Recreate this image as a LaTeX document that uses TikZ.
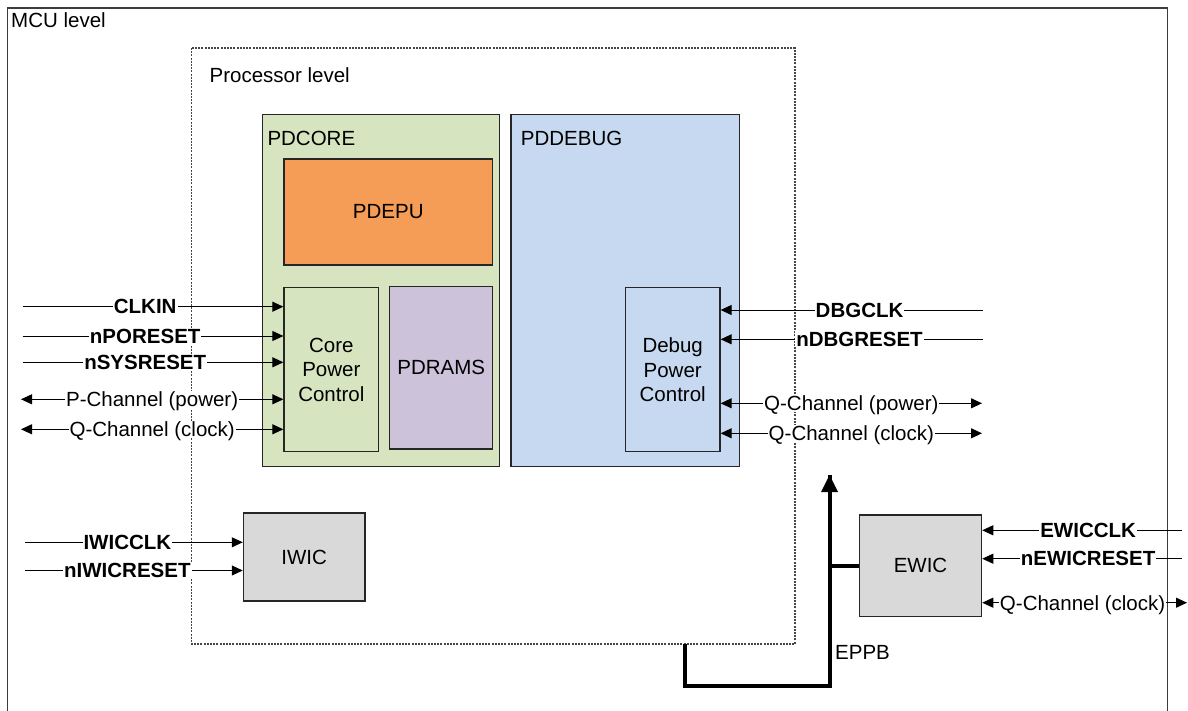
\documentclass[tikz,border=0pt]{standalone}
\usepackage{fontspec}
\setmainfont{Liberation Sans}
\usetikzlibrary{arrows.meta}
\definecolor{coregreen}{HTML}{D6E4BF}
\definecolor{epuorange}{HTML}{F59D56}
\definecolor{ramspurple}{HTML}{CCC2DA}
\definecolor{dbgblue}{HTML}{C6D9F0}
\definecolor{wicgray}{HTML}{D9D9D9}
\definecolor{edge}{HTML}{262626}
\tikzset{
  every node/.style={font=\fontsize{20.5}{24.5}\selectfont},
  blk/.style={draw=edge, line width=1.2pt, inner sep=0pt},
  sig/.style={line width=1pt, -{Triangle[length=11pt,width=10pt]}},
  bisig/.style={line width=1pt, {Triangle[length=11pt,width=10pt]}-{Triangle[length=11pt,width=10pt]}},
  lbl/.style={fill=white, inner sep=1pt, text depth=0pt},
  blbl/.style={lbl, font=\fontsize{20.5}{24.5}\selectfont\bfseries},
  bus/.style={line width=4pt},
}
\begin{document}
\begin{tikzpicture}[x=1pt,y=-1pt]
\useasboundingbox (0,0) rectangle (1188,711);
% MCU level
\draw[draw=edge!90, line width=1.5pt] (7.5,8) rectangle (1167.5,740);
\node[anchor=base west, inner sep=0pt] (mcu) at (11,28) {MCU level};
% Processor level
\draw[gray!55!black, line width=1.1pt, dash pattern=on 2pt off 1.2pt] (191.5,48) rectangle (795,644);
\node[anchor=base west, inner sep=0pt] (proc) at (209.5,82.5) {Processor level};
% power domains
\node[blk, fill=coregreen, minimum width=237pt, minimum height=352pt] (pdcore) at (381.3,290.7) {};
\node[anchor=base west, inner sep=0pt] (pdcorel) at (267.3,145.5) {PDCORE};
\node[blk, fill=epuorange, minimum width=208.7pt, minimum height=106pt] (pdepu) at (388.3,212) {PDEPU};
\node[blk, fill=coregreen, minimum width=94.7pt, minimum height=164pt, align=center] (cpc) at (331.3,369.7) {Core\\Power\\Control};
\node[blk, fill=ramspurple, minimum width=103pt, minimum height=162.7pt] (pdrams) at (441.2,367.7) {PDRAMS};
\node[blk, fill=dbgblue, minimum width=228.7pt, minimum height=352pt] (pddebug) at (625.3,290.7) {};
\node[anchor=base west, inner sep=0pt] (pddebugl) at (520.7,145.5) {PDDEBUG};
\node[blk, fill=dbgblue, minimum width=94.7pt, minimum height=164pt, align=center] (dpc) at (672.7,369.7) {Debug\\Power\\Control};
\node[blk, fill=wicgray, minimum width=121.7pt, minimum height=88pt] (iwic) at (304.2,557) {IWIC};
\node[blk, fill=wicgray, minimum width=122.3pt, minimum height=101.7pt] (ewic) at (920.5,565.8) {EWIC};
% free ends
\coordinate (clkin) at (22.7,306.7);
\coordinate (npor) at (22.7,336);
\coordinate (nsys) at (22.7,362.3);
\coordinate (pch) at (21,399.3);
\coordinate (qchl) at (21,429.3);
\coordinate (dbgclk) at (982.7,310);
\coordinate (ndbg) at (982.7,339.3);
\coordinate (qpr) at (982,403.3);
\coordinate (qcr) at (982,433.3);
\coordinate (iwicclk) at (25,542.3);
\coordinate (niwic) at (25,570.5);
\coordinate (ewicclk) at (1182,530.3);
\coordinate (newic) at (1182,558.7);
\coordinate (qce) at (1187,602.7);
% left signals
\draw[sig] (clkin) -- (cpc.west |- clkin) node[blbl, pos=0.47] {CLKIN};
\draw[sig] (npor) -- (cpc.west |- npor) node[blbl, pos=0.47] {nPORESET};
\draw[sig] (nsys) -- (cpc.west |- nsys) node[blbl, pos=0.47] {nSYSRESET};
\draw[bisig] (pch) -- (cpc.west |- pch) node[lbl, pos=0.5] {P-Channel (power)};
\draw[bisig] (qchl) -- (cpc.west |- qchl) node[lbl, pos=0.5] {Q-Channel (clock)};
% right signals
\draw[sig] (dbgclk) -- (dpc.east |- dbgclk) node[blbl, pos=0.47] {DBGCLK};
\draw[sig] (ndbg) -- (dpc.east |- ndbg) node[blbl, pos=0.47] {nDBGRESET};
\draw[bisig] (qpr) -- (dpc.east |- qpr) node[lbl, pos=0.5] {Q-Channel (power)};
\draw[bisig] (qcr) -- (dpc.east |- qcr) node[lbl, pos=0.5] {Q-Channel (clock)};
% IWIC signals
\draw[sig] (iwicclk) -- (iwic.west |- iwicclk) node[blbl, pos=0.47] {IWICCLK};
\draw[sig] (niwic) -- (iwic.west |- niwic) node[blbl, pos=0.47] {nIWICRESET};
% EWIC signals
\draw[sig] (ewicclk) -- (ewic.east |- ewicclk) node[blbl, pos=0.47] {EWICCLK};
\draw[sig] (newic) -- (ewic.east |- newic) node[blbl, pos=0.47] {nEWICRESET};
\draw[bisig] (qce) -- (ewic.east |- qce) node[lbl, pos=0.51] {Q-Channel (clock)};
% EPPB bus
\coordinate (eppbs) at (684.5,644);
\coordinate (eppbl) at (684.5,685.5);
\coordinate (eppbr) at (829.5,685.5);
\coordinate (eppbt) at (829.5,475);
\draw[bus, line join=miter] (eppbs) -- (eppbl) -- (eppbr) -- (eppbt);
\fill (eppbt) -- ++(-8.5,17) -- ++(17,0) -- cycle;
\draw[bus] (eppbr |- ewic.west) -- (ewic.west);
\node[anchor=base west, inner sep=0pt] (eppb) at (835,659) {EPPB};
\end{tikzpicture}
\end{document}
